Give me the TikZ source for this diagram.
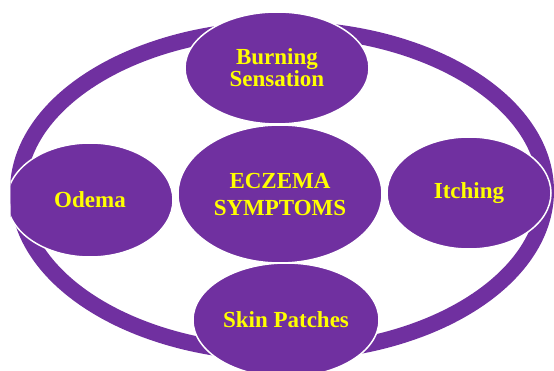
\documentclass[tikz,border=0pt]{standalone}
\usepackage{fontspec}
\setmainfont{Liberation Serif}
\usepackage{tikz}
\usetikzlibrary{shapes.geometric}
\definecolor{eczpurple}{HTML}{7030A0}
\definecolor{eczyellow}{HTML}{FFFF00}

\begin{document}
\begin{tikzpicture}[x=1pt, y=-1pt,
    every node/.style={font=\fontsize{23}{27}\selectfont\bfseries, text=eczyellow},
    symptom/.style={ellipse, draw=white, line width=1.5pt, fill=eczpurple, inner sep=0pt, align=center}]
  \useasboundingbox (0,0) rectangle (554,371);
  \clip (10.5,0) rectangle (554,371);
  % outer ring
  \draw[eczpurple, line width=16pt] (282,191) ellipse [x radius=264pt, y radius=162pt];
  \node[symptom, minimum width=204pt, minimum height=138pt] (core) at (280,194) {ECZEMA\\SYMPTOMS};
  \node[symptom, minimum width=184pt, minimum height=112pt, font=\fontsize{23}{21}\selectfont\bfseries] (burn) at (277,68) {Burning\\Sensation};
  \node[symptom, minimum width=166pt, minimum height=114pt] (odema) at (90,200) {Odema};
  \node[symptom, minimum width=164pt, minimum height=112pt] (itch) at (469,193) {Itching};
  \node[symptom, minimum width=186pt, minimum height=114pt] (skin) at (286,320) {Skin Patches};
\end{tikzpicture}
\end{document}
